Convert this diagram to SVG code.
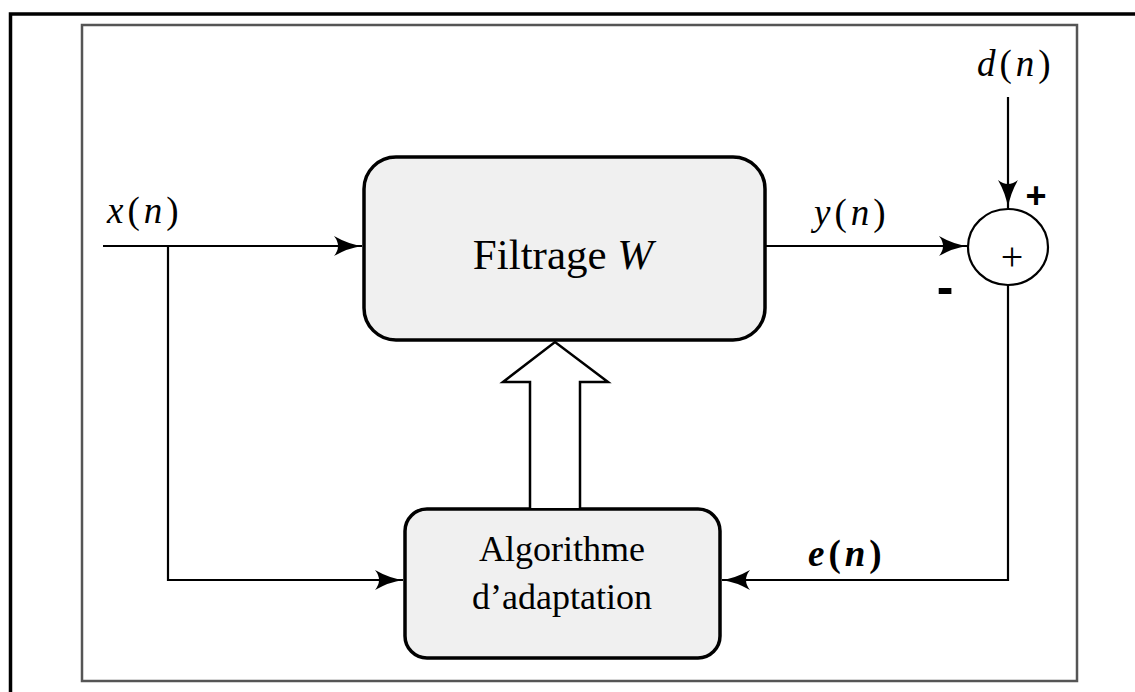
<svg xmlns="http://www.w3.org/2000/svg" width="1135" height="692" viewBox="0 0 1135 692">
<style>
.blk{fill:#f0f0f0;stroke:#000;stroke-width:3.5}
.ln{fill:none;stroke:#000;stroke-width:2.2}
.math{font-family:"Liberation Serif",serif;font-style:italic;font-size:37px;letter-spacing:4px;fill:#000}
.lbl{font-family:"Liberation Serif",serif;fill:#000}
.sgn{font-family:"Liberation Sans",sans-serif;font-weight:bold;fill:#000}
</style>
<defs>
<marker id="ah" markerUnits="userSpaceOnUse" markerWidth="30" markerHeight="24" viewBox="0 0 30 24" refX="28" refY="12" orient="auto">
<path d="M0,2 Q14,10 28,12 Q14,14 0,22 Q8,12 0,2 z" fill="#000"/>
</marker>
</defs>
<rect x="0" y="0" width="1135" height="692" fill="#fff"/>
<path d="M10.5,692 V14 H1135" fill="none" stroke="#000" stroke-width="3.5"/>
<rect x="82" y="25" width="995" height="656" fill="none" stroke="#555" stroke-width="2.5"/>
<g id="filtrage">
<rect class="blk" x="364" y="157" width="401" height="183" rx="32"/>
<text class="lbl" x="563" y="269" text-anchor="middle" font-size="43">Filtrage <tspan font-style="italic">W</tspan></text>
</g>
<g id="algorithme">
<rect class="blk" x="405" y="509" width="315" height="149" rx="22"/>
<text class="lbl" x="562" y="561" text-anchor="middle" font-size="36">Algorithme</text>
<text class="lbl" x="562" y="609" text-anchor="middle" font-size="36">d’adaptation</text>
</g>
<g id="sommateur">
<ellipse cx="1008" cy="247" rx="40" ry="38" fill="#fff" stroke="#000" stroke-width="2.2"/>
<text x="1012" y="270" text-anchor="middle" font-family="Liberation Serif,serif" font-size="40">+</text>
<text class="sgn" x="1036" y="208" text-anchor="middle" font-size="36">+</text>
<text class="sgn" x="945" y="304" text-anchor="middle" font-size="50">-</text>
</g>
<g id="connecteurs">
<path class="ln" d="M103,246 H362" marker-end="url(#ah)"/>
<path class="ln" d="M168,246 V580 H403" marker-end="url(#ah)"/>
<path class="ln" d="M765,246 H967" marker-end="url(#ah)"/>
<path class="ln" d="M1008,97 V208" marker-end="url(#ah)"/>
<path class="ln" d="M1008,285 V580 H722" marker-end="url(#ah)"/>
<path d="M530,508 V382 H503 L555,342 L608,382 H580 V508" fill="#fff" stroke="#000" stroke-width="2.5" stroke-linejoin="miter"/>
</g>
<g id="labels">
<text class="math" x="107" y="223">x<tspan font-style="normal">(</tspan>n<tspan font-style="normal">)</tspan></text>
<text class="math" x="814" y="225">y<tspan font-style="normal">(</tspan>n<tspan font-style="normal">)</tspan></text>
<text class="math" x="977" y="76">d<tspan font-style="normal">(</tspan>n<tspan font-style="normal">)</tspan></text>
<text class="math" x="808" y="566" font-weight="bold">e<tspan font-style="normal">(</tspan>n<tspan font-style="normal">)</tspan></text>
</g>
</svg>
